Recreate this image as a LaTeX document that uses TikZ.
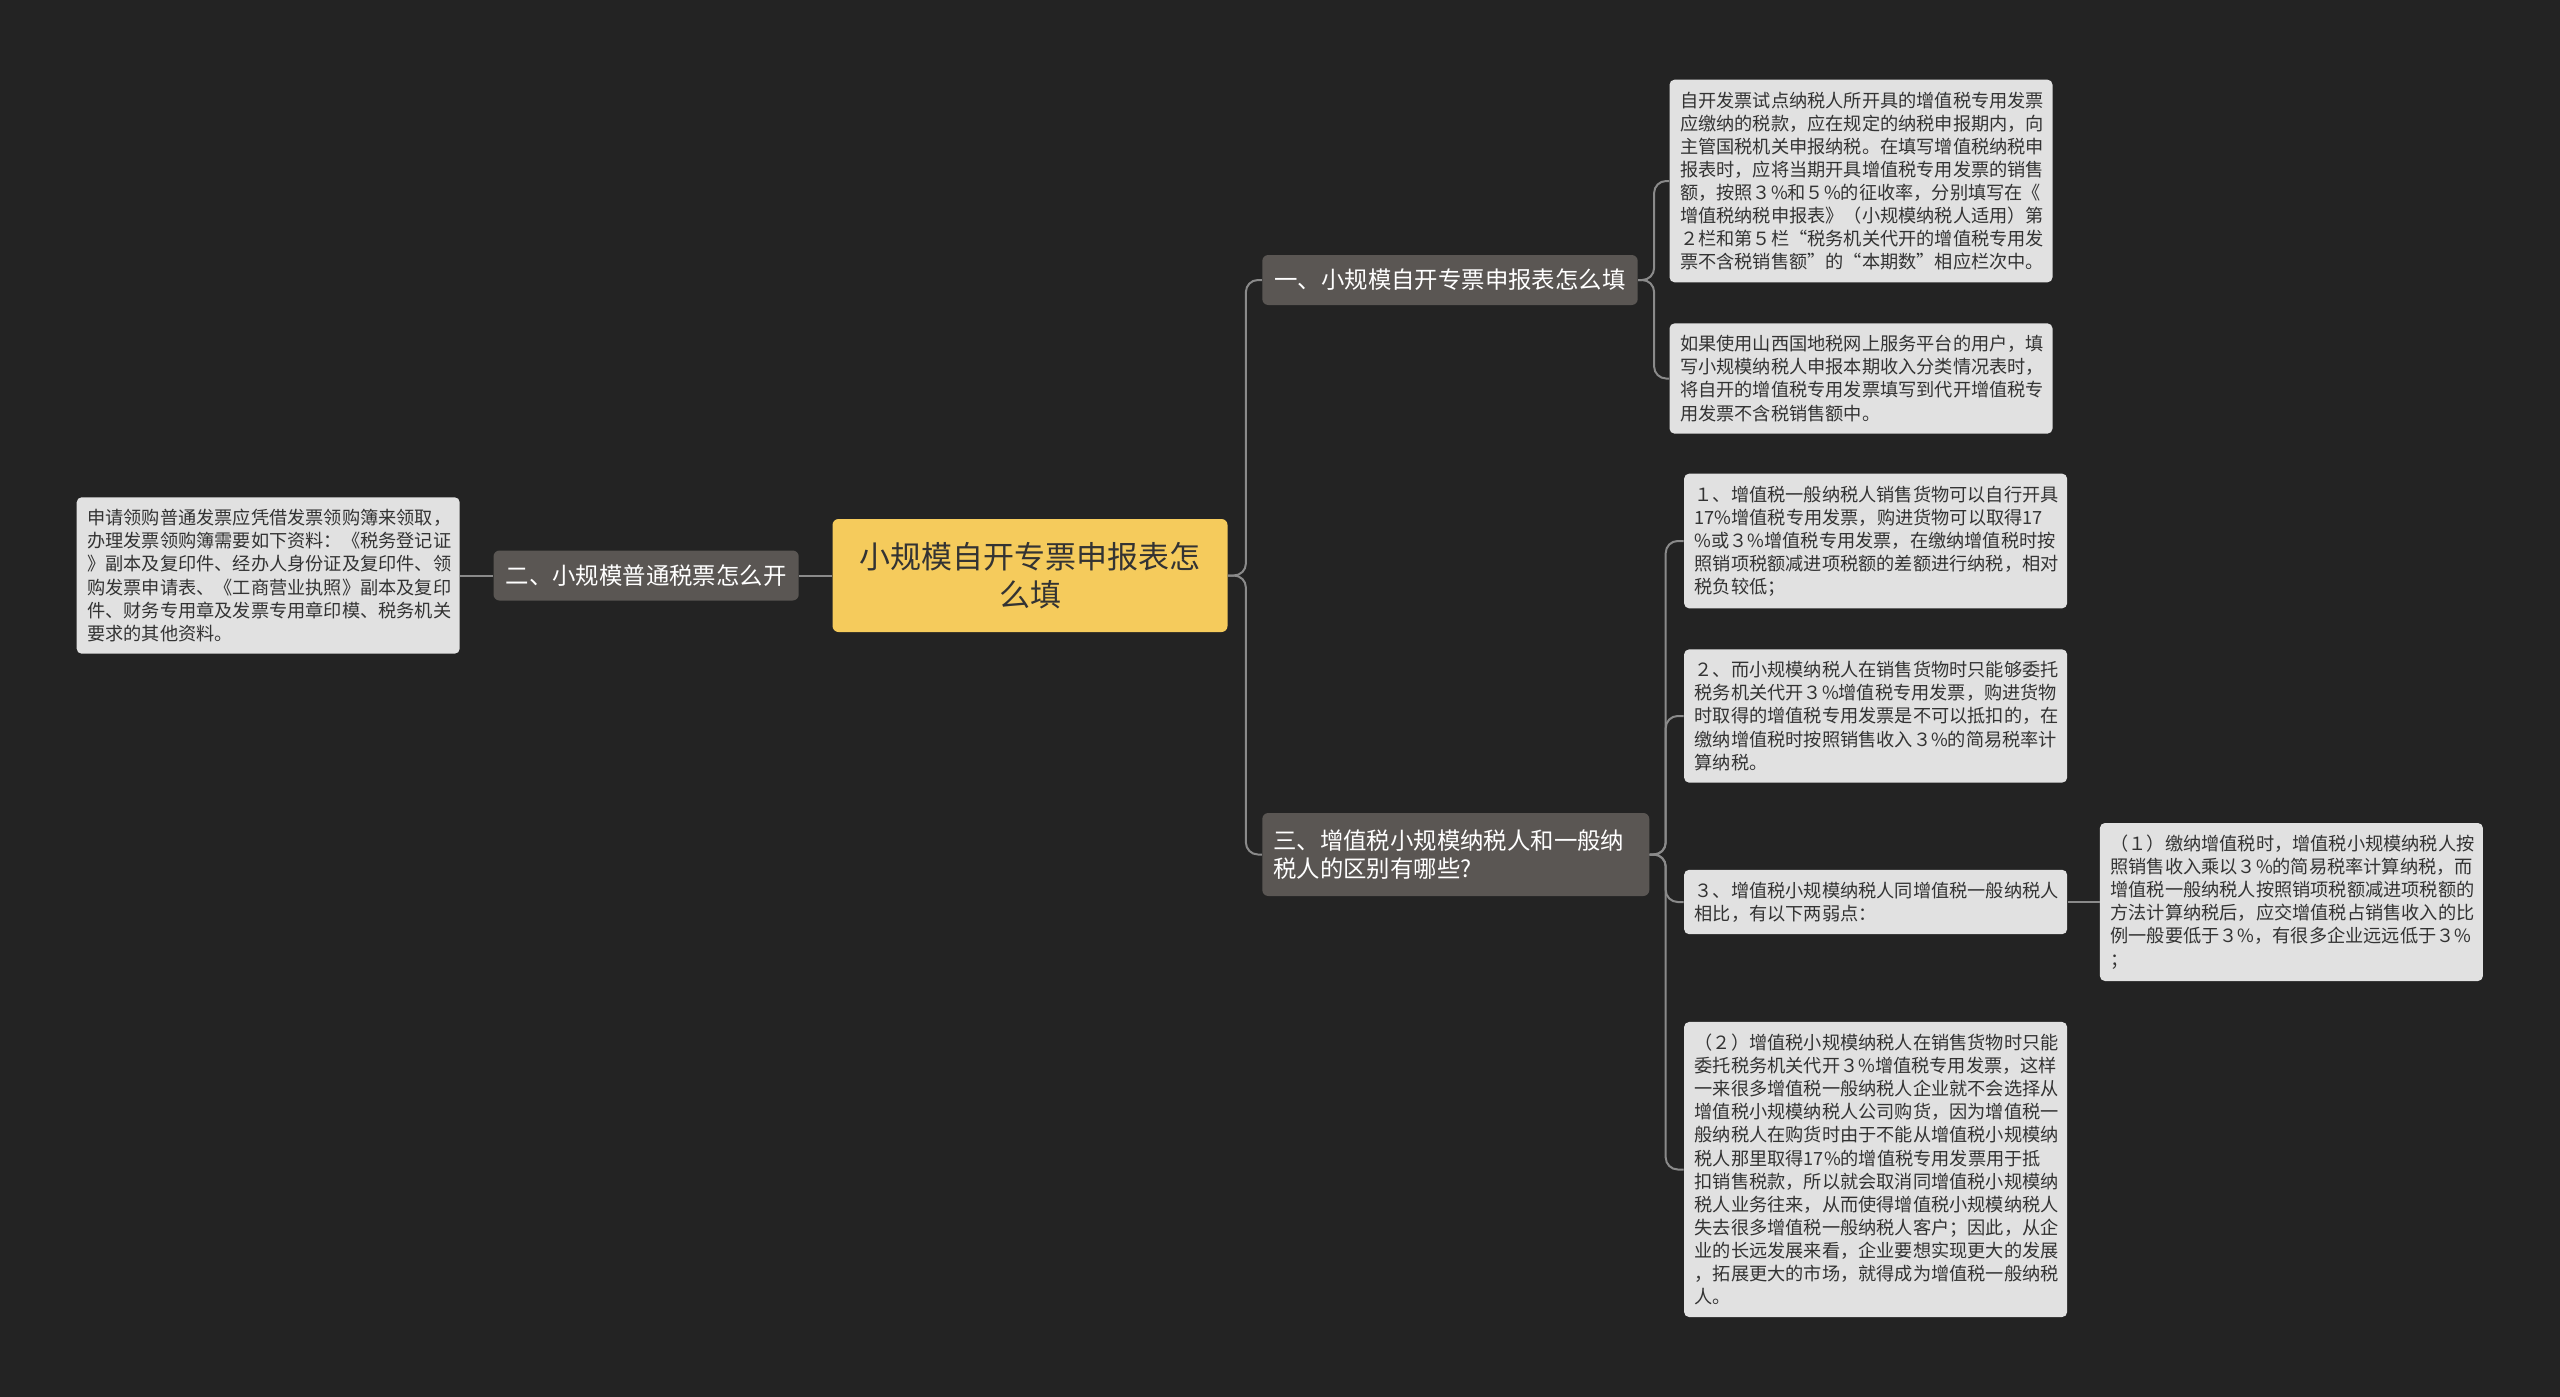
\documentclass[tikz,border=0pt]{standalone}
\usepackage{fontspec}
\setmainfont{Noto Sans CJK SC}
\usetikzlibrary{positioning, calc}

\definecolor{bgdark}{HTML}{232323}
\definecolor{rootyellow}{HTML}{F5CB5C}
\definecolor{branchgray}{HTML}{5A5653}
\definecolor{leafgray}{HTML}{E1E1E1}
\definecolor{linegray}{HTML}{8A8A8A}
\definecolor{textdark}{HTML}{333333}

\begin{document}
\begin{tikzpicture}[
    x=1pt, y=1pt,
    node distance=16.5pt,
    root/.style={rectangle, fill=rootyellow, text=textdark, rounded corners=3pt, align=center, text width=186pt, inner xsep=5.75pt, minimum height=56.5pt, font=\fontsize{15.5}{19}\selectfont},
    branch/.style={rectangle, fill=branchgray, text=white, rounded corners=3pt, align=left, inner xsep=6.1pt, inner ysep=3pt, minimum height=25pt, font=\fontsize{11.7}{14}\selectfont},
    leaf/.style={rectangle, fill=leafgray, text=textdark, rounded corners=2.5pt, align=left, text width=181pt, inner xsep=5.25pt, inner ysep=6pt, font=\fontsize{9.1}{11.55}\selectfont},
    line/.style={draw=linegray, line width=1pt, rounded corners=6pt}
]

\fill[bgdark] (0,0) rectangle (1280,-698.5);
\useasboundingbox (0,0) rectangle (1280,-698.5);

\node [root] (root) at (515,-287.75) {小规模自开专票申报表怎\\么填};

% left side
\node [branch, left=of root] (bsecond) {二、小规模普通税票怎么开};
\node [leaf, left=of bsecond] (lsecond) {申请领购普通发票应凭借发票领购簿来领取，\\
办理发票领购簿需要如下资料：《税务登记证\\
》副本及复印件、经办人身份证及复印件、领\\
购发票申请表、《工商营业执照》副本及复印\\
件、财务专用章及发票专用章印模、税务机关\\
要求的其他资料。};

% right side, first branch
\node [branch, right=17pt of root, yshift=147.75pt] (bfirst) {一、小规模自开专票申报表怎么填};
\node [leaf, right=15.5pt of bfirst, yshift=49.5pt] (lfirsta) {自开发票试点纳税人所开具的增值税专用发票\\
应缴纳的税款，应在规定的纳税申报期内，向\\
主管国税机关申报纳税。在填写增值税纳税申\\
报表时，应将当期开具增值税专用发票的销售\\
额，按照３\%和５\%的征收率，分别填写在《\\
增值税纳税申报表》（小规模纳税人适用）第\\
２栏和第５栏“税务机关代开的增值税专用发\\
票不含税销售额”的“本期数”相应栏次中。};
\node [leaf, right=15.5pt of bfirst, yshift=-49.25pt] (lfirstb) {如果使用山西国地税网上服务平台的用户，填\\
写小规模纳税人申报本期收入分类情况表时，\\
将自开的增值税专用发票填写到代开增值税专\\
用发票不含税销售额中。};

% right side, third branch
\node [branch, right=17pt of root, yshift=-139.5pt, inner xsep=5.5pt, text width=182.5pt, minimum height=41.5pt] (bthird) {三、增值税小规模纳税人和一般纳\\税人的区别有哪些?};
\node [leaf, right=17pt of bthird, yshift=156.75pt] (lthirda) {１、增值税一般纳税人销售货物可以自行开具\\
17\%增值税专用发票，购进货物可以取得17\\
\%或３\%增值税专用发票，在缴纳增值税时按\\
照销项税额减进项税额的差额进行纳税，相对\\
税负较低；};
\node [leaf, right=17pt of bthird, yshift=69.25pt] (lthirdb) {２、而小规模纳税人在销售货物时只能够委托\\
税务机关代开３\%增值税专用发票，购进货物\\
时取得的增值税专用发票是不可以抵扣的，在\\
缴纳增值税时按照销售收入３\%的简易税率计\\
算纳税。};
\node [leaf, right=17pt of bthird, yshift=-23.75pt] (lthirdc) {３、增值税小规模纳税人同增值税一般纳税人\\
相比，有以下两弱点：};
\node [leaf, right=16pt of lthirdc] (lthirdcone) {（１）缴纳增值税时，增值税小规模纳税人按\\
照销售收入乘以３\%的简易税率计算纳税，而\\
增值税一般纳税人按照销项税额减进项税额的\\
方法计算纳税后，应交增值税占销售收入的比\\
例一般要低于３\%，有很多企业远远低于３\%\\
；};
\node [leaf, right=17pt of bthird, yshift=-157.5pt] (lthirdd) {（２）增值税小规模纳税人在销售货物时只能\\
委托税务机关代开３\%增值税专用发票，这样\\
一来很多增值税一般纳税人企业就不会选择从\\
增值税小规模纳税人公司购货，因为增值税一\\
般纳税人在购货时由于不能从增值税小规模纳\\
税人那里取得17\%的增值税专用发票用于抵\\
扣销售税款，所以就会取消同增值税小规模纳\\
税人业务往来，从而使得增值税小规模纳税人\\
失去很多增值税一般纳税人客户；因此，从企\\
业的长远发展来看，企业要想实现更大的发展\\
，拓展更大的市场，就得成为增值税一般纳税\\
人。};

% connectors
\path [line] (root.west) -- (bsecond.east);
\path [line] (bsecond.west) -- (lsecond.east);
\foreach \b in {bfirst,bthird}
    \path [line] (root.east) -- ++(9pt,0) |- (\b.west);
\foreach \l in {lfirsta,lfirstb}
    \path [line] (bfirst.east) -- ++(8pt,0) |- (\l.west);
\foreach \l in {lthirda,lthirdb,lthirdc,lthirdd}
    \path [line] (bthird.east) -- ++(8pt,0) |- (\l.west);
\path [line] (lthirdc.east) -- (lthirdcone.west);

\end{tikzpicture}
\end{document}
